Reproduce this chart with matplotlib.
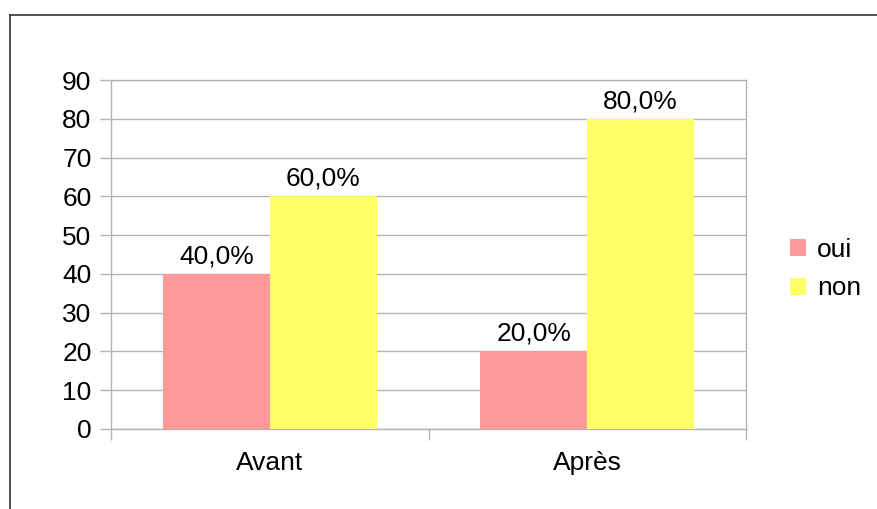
import numpy as np
import matplotlib
matplotlib.use("Agg")
import matplotlib.pyplot as plt
from matplotlib.lines import Line2D

plt.rcParams['font.family'] = ['Liberation Sans', 'DejaVu Sans']

categories = ['Avant', 'Après']
oui = [40, 20]
non = [60, 80]
oui_labels = ['40,0%', '20,0%']
non_labels = ['60,0%', '80,0%']

fig = plt.figure(figsize=(8.78, 5.09), dpi=100)
W, H = 878, 509
ax = fig.add_axes([111 / W, 1 - 429 / H, 635 / W, 349 / H])

x = np.arange(len(categories))
w = 0.337
b1 = ax.bar(x - w / 2, oui, w, color='#ff9999', label='oui', zorder=3)
b2 = ax.bar(x + w / 2, non, w, color='#ffff66', label='non', zorder=3)

for bars, labs in [(b1, oui_labels), (b2, non_labels)]:
    for r, t in zip(bars, labs):
        ax.annotate(t, (r.get_x() + r.get_width() / 2, r.get_height()),
                    xytext=(0, 4), textcoords='offset points',
                    ha='center', va='bottom', fontsize=19)

ax.set_xlim(-0.5, 1.5)
ax.set_ylim(0, 90)
ax.set_yticks(range(0, 91, 10))
ax.yaxis.grid(True, color='#b3b3b3', linewidth=1)
ax.set_axisbelow(True)

ax.set_xticks(x)
ax.set_xticklabels(categories)
ax.set_xticks([-0.5, 0.5, 1.5], minor=True)
ax.tick_params(axis='x', which='major', length=0, pad=16, labelsize=19)
ax.tick_params(axis='x', which='minor', length=8, color='#b3b3b3', width=1)
ax.tick_params(axis='y', length=8, color='#b3b3b3', width=1, pad=6, labelsize=19)

for s in ax.spines.values():
    s.set_color('#b3b3b3')
    s.set_linewidth(1)

ax.legend(loc='center left', bbox_to_anchor=(1.032, 0.458), frameon=False,
          fontsize=19, handlelength=0.62, handleheight=0.62,
          handletextpad=0.4, labelspacing=0.55)

# outer border
fig.add_artist(Line2D([10 / W, 1], [1 - 15 / H, 1 - 15 / H], color='#333333', lw=1.2))
fig.add_artist(Line2D([10 / W, 10 / W], [0, 1 - 15 / H], color='#333333', lw=1.2))

fig.savefig('out.png', dpi=100)
